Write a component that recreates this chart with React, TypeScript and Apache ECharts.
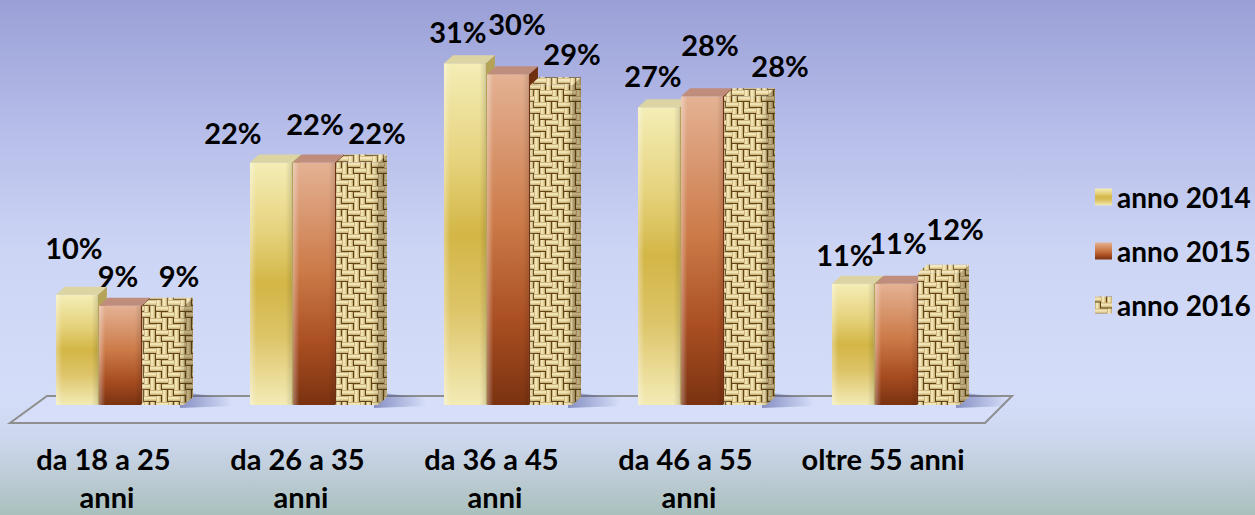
import React, { useEffect, useRef } from 'react';
import * as echarts from 'echarts';

const categories = ['da 18 a 25 anni', 'da 26 a 35 anni', 'da 36 a 45 anni', 'da 46 a 55 anni', 'oltre 55 anni'];
const seriesNames = ['anno 2014', 'anno 2015', 'anno 2016'];
const values2014 = [10, 22, 31, 27, 11];
const values2015 = [9, 22, 30, 28, 11];
const values2016 = [9, 22, 29, 28, 12];

// label offsets (px) relative to each bar's top centre, as in the original layout
const labelOffsets2014 = [[-3, -47], [-38, -30], [-7, -32], [-6, -32], [-8, -29]];
const labelOffsets2015 = [[-2, -30], [1, -39], [9, -51], [8, -52], [2, -41]];
const labelOffsets2016 = [[16, -30], [20, -30], [21, -32], [35, -31], [16, -44]];

const FONT = 'Lato, "Open Sans", sans-serif';
const DX = 9;
const DY = -8;

// fixed weave layout: 0 = horizontal strand, 1 = vertical strand
const WEAVE = [
  [0, 1, 1, 0],
  [1, 0, 0, 1],
  [0, 0, 1, 1],
  [1, 1, 0, 0],
];

function makeWeave(): HTMLCanvasElement {
  const S = 6;
  const c = document.createElement('canvas');
  c.width = S * 4;
  c.height = S * 4;
  const g = c.getContext('2d')!;
  g.fillStyle = '#cdb47a';
  g.fillRect(0, 0, c.width, c.height);
  for (let j = 0; j < 4; j++) {
    for (let i = 0; i < 4; i++) {
      const x = i * S;
      const y = j * S;
      if (WEAVE[j][i] === 0) {
        g.fillStyle = '#f1e4b6';
        g.fillRect(x, y + 1, S, 2);
        g.fillStyle = '#e2cf94';
        g.fillRect(x, y + 3, S, 1);
        g.fillStyle = '#5e4417';
        g.fillRect(x, y + 5, S, 1);
      } else {
        g.fillStyle = '#f1e4b6';
        g.fillRect(x + 1, y, 2, S);
        g.fillStyle = '#e2cf94';
        g.fillRect(x + 3, y, 1, S);
        g.fillStyle = '#5e4417';
        g.fillRect(x + 5, y, 1, S);
      }
    }
  }
  return c;
}

export default function App() {
  const ref = useRef<HTMLDivElement>(null);
  useEffect(() => {
    if (!ref.current) return;
    const chart = echarts.init(ref.current, undefined, { renderer: 'svg' });
    const weave = makeWeave();
    const weaveUrl = weave.toDataURL();
    const pattern: any = { image: weaveUrl, repeat: 'repeat', imageWidth: weave.width, imageHeight: weave.height };
    const LG = echarts.graphic.LinearGradient;

    const fronts: any[] = [
      new LG(0, 0, 0, 1, [
        { offset: 0, color: '#f4edb6' },
        { offset: 0.28, color: '#e6d37e' },
        { offset: 0.5, color: '#d3b646' },
        { offset: 0.72, color: '#ddc468' },
        { offset: 1, color: '#f3ebb6' },
      ]),
      new LG(0, 0, 0, 1, [
        { offset: 0, color: '#e4b294' },
        { offset: 0.45, color: '#cc7a48' },
        { offset: 0.75, color: '#a94e22' },
        { offset: 1, color: '#7a3210' },
      ]),
      pattern,
    ];
    const tops = ['#dcd4a2', '#c08c7c', pattern];
    const sides = ['#b5a458', '#70300f', pattern];
    const offsets = [labelOffsets2014, labelOffsets2015, labelOffsets2016];
    const values = [values2014, values2015, values2016];

    const makeRender = (k: number) => (params: any, api: any) => {
      const idx = api.value(0);
      const v = api.value(1);
      const band = api.size([1, 0])[0];
      const w = band * 0.216;
      const step = band * 0.222;
      const top = api.coord([idx, v]);
      const base = api.coord([idx, 0]);
      const cx = top[0] + (k - 1) * step;
      const x0 = cx - w / 2;
      const x1 = cx + w / 2;
      const y0 = top[1];
      const y1 = base[1];
      const children: any[] = [];
      if (k === 2) {
        children.push({
          type: 'polygon',
          shape: { points: [[x1 - 4, y1 - 13], [x1 + 48, y1 - 7], [x1 + 48, y1 + 1], [x1 - 4, y1 + 3]] },
          style: {
            fill: new LG(0, 0, 1, 0, [
              { offset: 0, color: 'rgba(70,80,150,0.55)' },
              { offset: 1, color: 'rgba(70,80,150,0)' },
            ]),
          },
        });
      }
      children.push({ type: 'rect', shape: { x: x0, y: y0, width: w, height: y1 - y0 }, style: { fill: fronts[k] } });
      children.push({
        type: 'rect',
        shape: { x: x0, y: y0, width: w, height: y1 - y0 },
        style: {
          fill: new LG(0, 0, 1, 0, [
            { offset: 0, color: k < 2 ? 'rgba(255,255,255,0.35)' : 'rgba(255,255,255,0.15)' },
            { offset: 0.15, color: 'rgba(255,255,255,0)' },
            { offset: 0.85, color: 'rgba(0,0,0,0)' },
            { offset: 1, color: 'rgba(0,0,0,0.12)' },
          ]),
        },
      });
      children.push({
        type: 'polygon',
        shape: { points: [[x1, y0], [x1 + DX, y0 + DY], [x1 + DX, y1 + DY], [x1, y1]] },
        style: { fill: sides[k] },
      });
      if (k === 2) {
        children.push({
          type: 'polygon',
          shape: { points: [[x1, y0], [x1 + DX, y0 + DY], [x1 + DX, y1 + DY], [x1, y1]] },
          style: { fill: 'rgba(60,40,10,0.3)' },
        });
      }
      children.push({
        type: 'polygon',
        shape: { points: [[x0, y0], [x0 + DX, y0 + DY], [x1 + DX, y0 + DY], [x1, y0]] },
        style: { fill: tops[k] },
      });
      if (k === 2) {
        children.push({
          type: 'polygon',
          shape: { points: [[x0, y0], [x0 + DX, y0 + DY], [x1 + DX, y0 + DY], [x1, y0]] },
          style: { fill: 'rgba(255,245,210,0.2)' },
        });
      }
      const off = offsets[k][idx];
      children.push({
        type: 'text',
        x: cx + off[0],
        y: y0 + off[1],
        style: {
          text: v + '%',
          fill: '#000',
          font: `bold 29px ${FONT}`,
          align: 'center',
          verticalAlign: 'middle',
        },
      });
      return { type: 'group', children };
    };

    const legendColors = [fronts[0], fronts[1], pattern];

    chart.setOption({
      animation: false,
      backgroundColor: new LG(0, 0, 0, 1, [
        { offset: 0, color: '#9aa0d6' },
        { offset: 0.23, color: '#b4bbe8' },
        { offset: 0.49, color: '#cdd5f5' },
        { offset: 0.78, color: '#d4ddf8' },
        { offset: 0.86, color: '#cbd6ec' },
        { offset: 0.93, color: '#bccbd4' },
        { offset: 1, color: '#a9c0bd' },
      ]),
      grid: { left: 23, width: 970, top: 8, height: 407 },
      xAxis: {
        type: 'category',
        data: categories,
        axisLine: { show: false },
        axisTick: { show: false },
        splitLine: { show: false },
        axisLabel: {
          interval: 0,
          fontFamily: FONT,
          fontWeight: 'bold',
          fontSize: 29,
          color: '#000',
          lineHeight: 38,
          margin: 34,
          width: 180,
          overflow: 'break',
          padding: [0, 26, 0, 0],
        },
      },
      yAxis: { type: 'value', min: 0, max: 36, show: false },
      legend: {
        orient: 'vertical',
        left: 1090,
        top: 177,
        itemWidth: 17,
        itemHeight: 17,
        itemGap: 24,
        icon: 'rect',
        data: seriesNames,
        textStyle: { fontFamily: FONT, fontWeight: 'bold', fontSize: 28, color: '#000', lineHeight: 30 },
      },
      graphic: [
        {
          type: 'polygon',
          z: 0,
          shape: { points: [[47, 396], [1012, 396], [985, 423], [10, 423]] },
          style: { fill: '#d6def9', stroke: '#8e8e8e', lineWidth: 2 },
        },
      ],
      series: seriesNames.map((name, k) => ({
        type: 'custom',
        name,
        z: 2,
        itemStyle: { color: legendColors[k] },
        data: values[k].map((v, i) => [i, v]),
        encode: { x: 0, y: 1 },
        renderItem: makeRender(k),
      })),
    });
    return () => chart.dispose();
  }, []);
  return <div ref={ref} style={{ position: 'fixed', left: 0, top: 0, width: 1255, height: 515 }} />;
}
